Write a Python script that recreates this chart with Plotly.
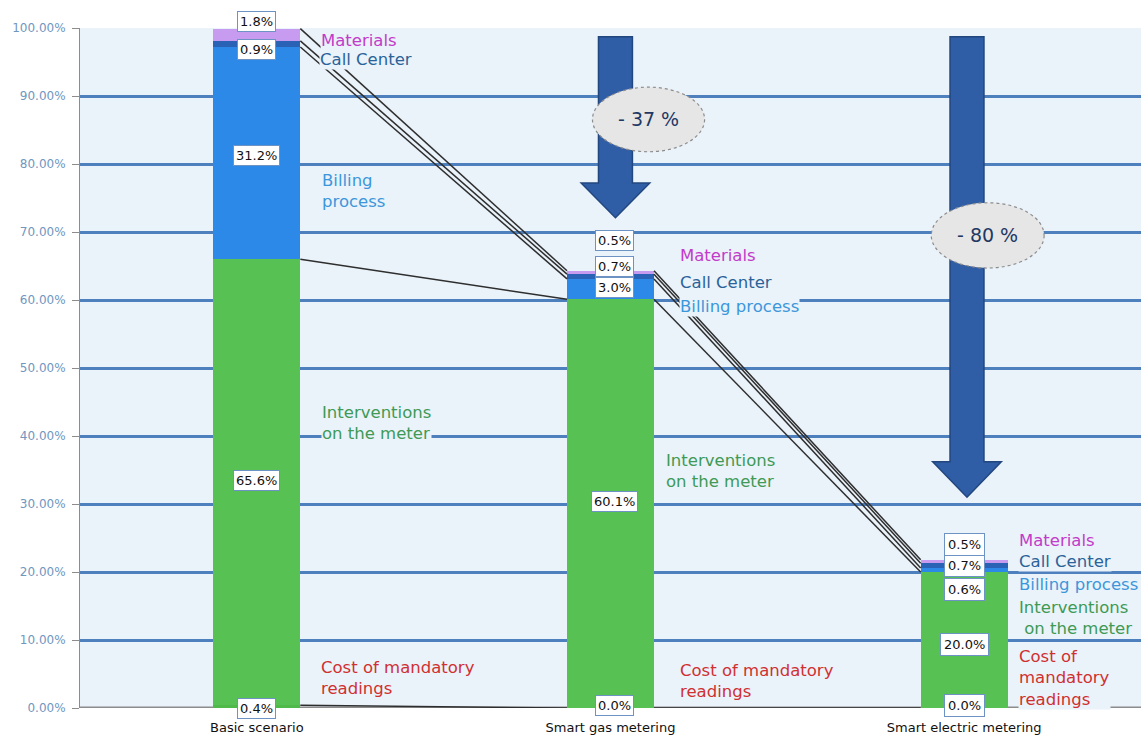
import plotly.graph_objects as go
import numpy as np

# ---------------- data ----------------
categories = ["Basic scenario", "Smart gas metering", "Smart electric metering"]
mandatory = [0.4, 0.0, 0.0]
interventions = [65.6, 60.1, 20.0]
billing = [31.2, 3.0, 0.6]
call_center = [0.9, 0.7, 0.7]
materials = [1.8, 0.5, 0.5]
reductions = ["- 37 %", "- 80 %"]
y_ticks = [0, 10, 20, 30, 40, 50, 60, 70, 80, 90, 100]

# ---------------- styling ----------------
FONT = "DejaVu Sans"
BW = 0.246
C_MAND = "#4FB94A"
C_INT = "#58C153"
C_BILL = "#2D89E8"
C_CC = "#2A62B6"
C_MAT = "#C79BF0"
PLOT_BG = "#EAF2FA"

series = [
    ("Cost of mandatory readings", mandatory, C_MAND),
    ("Interventions on the meter", interventions, C_INT),
    ("Billing process", billing, C_BILL),
    ("Call Center", call_center, C_CC),
    ("Materials", materials, C_MAT),
]

x = [0, 1, 2]
fig = go.Figure()
for name, vals, col in series:
    fig.add_bar(x=x, y=vals, width=BW, name=name, marker=dict(color=col, line=dict(width=0)),
                hoverinfo="skip")

# series connector lines (from top of each stacked level to the next bar)
cum = np.cumsum(np.array([s[1] for s in series]), axis=0)
for lev in range(cum.shape[0]):
    for i in range(2):
        fig.add_scatter(x=[i + BW / 2, i + 1 - BW / 2], y=[cum[lev, i], cum[lev, i + 1]],
                        mode="lines", line=dict(color="#2E2E2E", width=1.5),
                        hoverinfo="skip", showlegend=False)

# ---------------- annotations: value boxes ----------------
# vertical placement (in % units) of the value boxes for each bar, bottom->top order
box_y = [
    [0.0, 33.5, 81.3, 96.8, 101.0],
    [0.3, 30.4, 61.8, 65.0, 68.7],
    [0.3, 9.4, 17.5, 20.9, 24.0],
]
box_shift = [0, 4, 0]
box_pad = [2, 2, 3]
annotations = []
for i in range(3):
    for k, (name, vals, col) in enumerate(series):
        annotations.append(dict(
            x=i, y=box_y[i][k] / 100.0, xref="x", yref="paper", xshift=box_shift[i],
            xanchor="center", yanchor="middle",
            text=f"{vals[i]:.1f}%", showarrow=False,
            font=dict(family=FONT, size=13, color="#111111"),
            bgcolor="white", bordercolor="#6C93C4", borderwidth=1, borderpad=box_pad[i],
        ))

# ---------------- annotations: series name labels ----------------
label_colors = ["#D03030", "#3E9A55", "#3C97DA", "#2A6399", "#C23BC9"]
label_text = [
    ["Cost of mandatory<br>readings", "Interventions<br>on the meter", "Billing<br>process", "Call Center", "Materials"],
    ["Cost of mandatory<br>readings", "Interventions<br>on the meter", "Billing process", "Call Center", "Materials"],
    ["Cost of<br>mandatory<br>readings", "Interventions<br> on the meter", "Billing process", "Call Center", "Materials"],
]
label_y = [
    [4.4, 41.9, 76.0, 95.3, 98.2],
    [4.0, 34.9, 59.0, 62.6, 66.6],
    [4.4, 13.2, 18.2, 21.5, 24.6],
]
label_xshift = [
    [20, 21, 21, 19, 20],
    [25, 11, 25, 25, 25],
    [10, 10, 10, 10, 10],
]
for i in range(3):
    for k in range(5):
        annotations.append(dict(
            x=i + BW / 2, y=label_y[i][k], xref="x", yref="y", xshift=label_xshift[i][k],
            xanchor="left", yanchor="middle", align="left",
            text=label_text[i][k], showarrow=False,
            font=dict(family=FONT, size=16.5, color=label_colors[k]),
            bgcolor=PLOT_BG, borderpad=0,
        ))

# ---------------- arrows and reduction badges ----------------
shapes = []
arrow_specs = [  # (center x, top, head base, tip)
    (1.014, 98.7, 77.2, 72.1),
    (2.008, 98.7, 36.2, 31.0),
]
sw, hw = 0.048, 0.097
for cx, top, base, tip in arrow_specs:
    path = (f"M {cx - sw},{top} L {cx + sw},{top} L {cx + sw},{base} L {cx + hw},{base} "
            f"L {cx},{tip} L {cx - hw},{base} L {cx - sw},{base} Z")
    shapes.append(dict(type="path", path=path, xref="x", yref="y", layer="above",
                       fillcolor="#2F5DA6", line=dict(color="#22477F", width=1.5)))

badge_specs = [  # (x0, x1, y0, y1)
    (0.949, 1.266, 81.8, 91.3),
    (1.907, 2.226, 64.7, 74.3),
]
for (x0, x1, y0, y1), txt in zip(badge_specs, reductions):
    shapes.append(dict(type="circle", xref="x", yref="y", x0=x0, x1=x1, y0=y0, y1=y1,
                       layer="above", fillcolor="#E6E6E6",
                       line=dict(color="#8C8C8C", width=1.2, dash="dot")))
    annotations.append(dict(x=(x0 + x1) / 2, y=(y0 + y1) / 2, xref="x", yref="y",
                            text=txt, showarrow=False,
                            font=dict(family=FONT, size=19, color="#1F3864")))

# grey baseline over the 0% gridline
shapes.append(dict(type="line", xref="paper", yref="y", x0=0, x1=1, y0=0, y1=0,
                   layer="between", line=dict(color="#8C8C8C", width=3)))

fig.update_layout(
    width=1141, height=742,
    margin=dict(l=80, r=0, t=28, b=34),
    plot_bgcolor=PLOT_BG, paper_bgcolor="white",
    barmode="stack", bargap=0, showlegend=False,
    annotations=annotations, shapes=shapes,
    xaxis=dict(range=[-0.5, 2.5], tickvals=x, ticktext=categories,
               showgrid=False, zeroline=False, showline=False, ticks="",
               tickfont=dict(family=FONT, size=13, color="#111111"),
               ticklabelstandoff=10, fixedrange=True),
    yaxis=dict(range=[0, 100], tickvals=y_ticks, ticktext=[f"{v:.2f}%" for v in y_ticks],
               showgrid=True, gridcolor="#4F80BE", gridwidth=3, zeroline=False,
               showline=True, linecolor="#8C8C8C", linewidth=1,
               ticks="outside", ticklen=7, tickcolor="#8C8C8C",
               tickfont=dict(family=FONT, size=12, color="#7096C0"),
               ticklabelstandoff=4, fixedrange=True),
)

fig.write_html("out.html")
